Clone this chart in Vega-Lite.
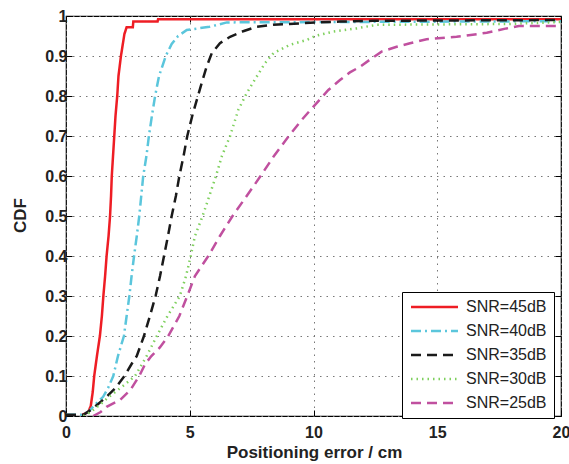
{
  "$schema": "https://vega.github.io/schema/vega-lite/v6.json",
  "width": 495,
  "height": 400,
  "autosize": {"type": "none"},
  "padding": {"left": 66, "top": 16, "right": 8, "bottom": 48},
  "background": "white",
  "config": {
    "view": {"stroke": "black", "strokeWidth": 1.2},
    "axis": {
      "labelFont": "Liberation Sans",
      "labelFontWeight": "bold",
      "labelFontSize": 16,
      "labelColor": "#222",
      "labelFlush": false,
      "titleFont": "Liberation Sans",
      "titleFontWeight": "bold",
      "titleFontSize": 17,
      "titleColor": "#222",
      "domain": false,
      "gridDash": [1.5, 5],
      "gridColor": "#777",
      "gridWidth": 1,
      "tickColor": "black",
      "tickSize": -6
    },
    "legend": {
      "labelFont": "Liberation Sans",
      "labelFontSize": 16,
      "labelColor": "#222"
    }
  },
  "data": {"values": [
    {"s": "SNR=45dB", "x": 0.6, "y": 0},
    {"s": "SNR=45dB", "x": 0.67, "y": 0.003},
    {"s": "SNR=45dB", "x": 0.9, "y": 0.01},
    {"s": "SNR=45dB", "x": 1.0, "y": 0.025},
    {"s": "SNR=45dB", "x": 1.08, "y": 0.06},
    {"s": "SNR=45dB", "x": 1.14, "y": 0.1},
    {"s": "SNR=45dB", "x": 1.25, "y": 0.15},
    {"s": "SNR=45dB", "x": 1.37, "y": 0.2},
    {"s": "SNR=45dB", "x": 1.45, "y": 0.25},
    {"s": "SNR=45dB", "x": 1.51, "y": 0.3},
    {"s": "SNR=45dB", "x": 1.58, "y": 0.35},
    {"s": "SNR=45dB", "x": 1.64, "y": 0.4},
    {"s": "SNR=45dB", "x": 1.72, "y": 0.45},
    {"s": "SNR=45dB", "x": 1.78, "y": 0.5},
    {"s": "SNR=45dB", "x": 1.82, "y": 0.55},
    {"s": "SNR=45dB", "x": 1.85, "y": 0.6},
    {"s": "SNR=45dB", "x": 1.9, "y": 0.65},
    {"s": "SNR=45dB", "x": 1.95, "y": 0.7},
    {"s": "SNR=45dB", "x": 2.0, "y": 0.75},
    {"s": "SNR=45dB", "x": 2.07, "y": 0.8},
    {"s": "SNR=45dB", "x": 2.12, "y": 0.85},
    {"s": "SNR=45dB", "x": 2.22, "y": 0.9},
    {"s": "SNR=45dB", "x": 2.36, "y": 0.955},
    {"s": "SNR=45dB", "x": 2.45, "y": 0.972},
    {"s": "SNR=45dB", "x": 2.7, "y": 0.972},
    {"s": "SNR=45dB", "x": 2.72, "y": 0.986},
    {"s": "SNR=45dB", "x": 3.7, "y": 0.986},
    {"s": "SNR=45dB", "x": 3.72, "y": 0.992},
    {"s": "SNR=45dB", "x": 20, "y": 0.992},

    {"s": "SNR=40dB", "x": 0, "y": 0.003},
    {"s": "SNR=40dB", "x": 0.6, "y": 0.003},
    {"s": "SNR=40dB", "x": 0.9, "y": 0.01},
    {"s": "SNR=40dB", "x": 1.2, "y": 0.03},
    {"s": "SNR=40dB", "x": 1.5, "y": 0.048},
    {"s": "SNR=40dB", "x": 1.7, "y": 0.07},
    {"s": "SNR=40dB", "x": 1.91, "y": 0.1},
    {"s": "SNR=40dB", "x": 2.1, "y": 0.15},
    {"s": "SNR=40dB", "x": 2.34, "y": 0.2},
    {"s": "SNR=40dB", "x": 2.45, "y": 0.25},
    {"s": "SNR=40dB", "x": 2.56, "y": 0.3},
    {"s": "SNR=40dB", "x": 2.65, "y": 0.35},
    {"s": "SNR=40dB", "x": 2.75, "y": 0.4},
    {"s": "SNR=40dB", "x": 2.86, "y": 0.45},
    {"s": "SNR=40dB", "x": 2.96, "y": 0.5},
    {"s": "SNR=40dB", "x": 3.04, "y": 0.55},
    {"s": "SNR=40dB", "x": 3.12, "y": 0.6},
    {"s": "SNR=40dB", "x": 3.25, "y": 0.65},
    {"s": "SNR=40dB", "x": 3.35, "y": 0.7},
    {"s": "SNR=40dB", "x": 3.47, "y": 0.75},
    {"s": "SNR=40dB", "x": 3.6, "y": 0.8},
    {"s": "SNR=40dB", "x": 3.76, "y": 0.85},
    {"s": "SNR=40dB", "x": 4.03, "y": 0.9},
    {"s": "SNR=40dB", "x": 4.27, "y": 0.93},
    {"s": "SNR=40dB", "x": 4.53, "y": 0.95},
    {"s": "SNR=40dB", "x": 4.88, "y": 0.965},
    {"s": "SNR=40dB", "x": 5.8, "y": 0.973},
    {"s": "SNR=40dB", "x": 6.5, "y": 0.984},
    {"s": "SNR=40dB", "x": 20, "y": 0.987},

    {"s": "SNR=35dB", "x": 0, "y": 0.003},
    {"s": "SNR=35dB", "x": 0.7, "y": 0.003},
    {"s": "SNR=35dB", "x": 1.0, "y": 0.015},
    {"s": "SNR=35dB", "x": 1.3, "y": 0.03},
    {"s": "SNR=35dB", "x": 1.64, "y": 0.048},
    {"s": "SNR=35dB", "x": 2.0, "y": 0.07},
    {"s": "SNR=35dB", "x": 2.36, "y": 0.1},
    {"s": "SNR=35dB", "x": 2.65, "y": 0.13},
    {"s": "SNR=35dB", "x": 2.86, "y": 0.15},
    {"s": "SNR=35dB", "x": 3.15, "y": 0.2},
    {"s": "SNR=35dB", "x": 3.39, "y": 0.25},
    {"s": "SNR=35dB", "x": 3.62, "y": 0.3},
    {"s": "SNR=35dB", "x": 3.8, "y": 0.35},
    {"s": "SNR=35dB", "x": 3.96, "y": 0.4},
    {"s": "SNR=35dB", "x": 4.12, "y": 0.45},
    {"s": "SNR=35dB", "x": 4.27, "y": 0.5},
    {"s": "SNR=35dB", "x": 4.44, "y": 0.55},
    {"s": "SNR=35dB", "x": 4.58, "y": 0.6},
    {"s": "SNR=35dB", "x": 4.75, "y": 0.65},
    {"s": "SNR=35dB", "x": 4.9, "y": 0.7},
    {"s": "SNR=35dB", "x": 5.1, "y": 0.75},
    {"s": "SNR=35dB", "x": 5.33, "y": 0.8},
    {"s": "SNR=35dB", "x": 5.52, "y": 0.84},
    {"s": "SNR=35dB", "x": 5.68, "y": 0.873},
    {"s": "SNR=35dB", "x": 5.89, "y": 0.907},
    {"s": "SNR=35dB", "x": 6.22, "y": 0.932},
    {"s": "SNR=35dB", "x": 6.63, "y": 0.948},
    {"s": "SNR=35dB", "x": 7.16, "y": 0.962},
    {"s": "SNR=35dB", "x": 7.7, "y": 0.973},
    {"s": "SNR=35dB", "x": 8.37, "y": 0.978},
    {"s": "SNR=35dB", "x": 9.86, "y": 0.983},
    {"s": "SNR=35dB", "x": 11.07, "y": 0.986},
    {"s": "SNR=35dB", "x": 12.4, "y": 0.988},
    {"s": "SNR=35dB", "x": 20, "y": 0.99},

    {"s": "SNR=30dB", "x": 0.7, "y": 0},
    {"s": "SNR=30dB", "x": 1.0, "y": 0.01},
    {"s": "SNR=30dB", "x": 1.4, "y": 0.03},
    {"s": "SNR=30dB", "x": 1.78, "y": 0.05},
    {"s": "SNR=30dB", "x": 2.3, "y": 0.075},
    {"s": "SNR=30dB", "x": 2.79, "y": 0.1},
    {"s": "SNR=30dB", "x": 3.26, "y": 0.15},
    {"s": "SNR=30dB", "x": 3.67, "y": 0.2},
    {"s": "SNR=30dB", "x": 4.1, "y": 0.25},
    {"s": "SNR=30dB", "x": 4.6, "y": 0.3},
    {"s": "SNR=30dB", "x": 4.85, "y": 0.35},
    {"s": "SNR=30dB", "x": 5.04, "y": 0.4},
    {"s": "SNR=30dB", "x": 5.21, "y": 0.45},
    {"s": "SNR=30dB", "x": 5.52, "y": 0.5},
    {"s": "SNR=30dB", "x": 5.79, "y": 0.55},
    {"s": "SNR=30dB", "x": 6.06, "y": 0.6},
    {"s": "SNR=30dB", "x": 6.3, "y": 0.65},
    {"s": "SNR=30dB", "x": 6.63, "y": 0.7},
    {"s": "SNR=30dB", "x": 6.96, "y": 0.765},
    {"s": "SNR=30dB", "x": 7.3, "y": 0.807},
    {"s": "SNR=30dB", "x": 7.7, "y": 0.848},
    {"s": "SNR=30dB", "x": 8.04, "y": 0.882},
    {"s": "SNR=30dB", "x": 8.38, "y": 0.907},
    {"s": "SNR=30dB", "x": 9.05, "y": 0.928},
    {"s": "SNR=30dB", "x": 9.72, "y": 0.94},
    {"s": "SNR=30dB", "x": 10.06, "y": 0.95},
    {"s": "SNR=30dB", "x": 10.8, "y": 0.961},
    {"s": "SNR=30dB", "x": 11.74, "y": 0.969},
    {"s": "SNR=30dB", "x": 12.55, "y": 0.978},
    {"s": "SNR=30dB", "x": 17.9, "y": 0.98},
    {"s": "SNR=30dB", "x": 20, "y": 0.985},

    {"s": "SNR=25dB", "x": 1.1, "y": 0},
    {"s": "SNR=25dB", "x": 1.4, "y": 0.01},
    {"s": "SNR=25dB", "x": 1.64, "y": 0.023},
    {"s": "SNR=25dB", "x": 2.18, "y": 0.04},
    {"s": "SNR=25dB", "x": 2.6, "y": 0.065},
    {"s": "SNR=25dB", "x": 2.96, "y": 0.1},
    {"s": "SNR=25dB", "x": 3.2, "y": 0.13},
    {"s": "SNR=25dB", "x": 3.45, "y": 0.15},
    {"s": "SNR=25dB", "x": 3.8, "y": 0.172},
    {"s": "SNR=25dB", "x": 4.13, "y": 0.2},
    {"s": "SNR=25dB", "x": 4.58, "y": 0.25},
    {"s": "SNR=25dB", "x": 4.9, "y": 0.3},
    {"s": "SNR=25dB", "x": 5.21, "y": 0.35},
    {"s": "SNR=25dB", "x": 5.75, "y": 0.4},
    {"s": "SNR=25dB", "x": 6.22, "y": 0.45},
    {"s": "SNR=25dB", "x": 6.73, "y": 0.5},
    {"s": "SNR=25dB", "x": 7.3, "y": 0.55},
    {"s": "SNR=25dB", "x": 7.84, "y": 0.598},
    {"s": "SNR=25dB", "x": 8.38, "y": 0.648},
    {"s": "SNR=25dB", "x": 8.98, "y": 0.698},
    {"s": "SNR=25dB", "x": 9.52, "y": 0.74},
    {"s": "SNR=25dB", "x": 9.99, "y": 0.773},
    {"s": "SNR=25dB", "x": 10.6, "y": 0.815},
    {"s": "SNR=25dB", "x": 11.07, "y": 0.84},
    {"s": "SNR=25dB", "x": 11.47, "y": 0.859},
    {"s": "SNR=25dB", "x": 11.88, "y": 0.873},
    {"s": "SNR=25dB", "x": 12.35, "y": 0.894},
    {"s": "SNR=25dB", "x": 12.75, "y": 0.911},
    {"s": "SNR=25dB", "x": 13.36, "y": 0.923},
    {"s": "SNR=25dB", "x": 13.9, "y": 0.932},
    {"s": "SNR=25dB", "x": 14.57, "y": 0.942},
    {"s": "SNR=25dB", "x": 15.78, "y": 0.948},
    {"s": "SNR=25dB", "x": 17.0, "y": 0.958},
    {"s": "SNR=25dB", "x": 17.8, "y": 0.969},
    {"s": "SNR=25dB", "x": 18.3, "y": 0.975},
    {"s": "SNR=25dB", "x": 20, "y": 0.975}
  ]},
  "resolve": {"axis": {"x": "independent", "y": "independent"}},
  "layer": [
    {
      "mark": {"type": "line", "clip": true},
      "encoding": {
        "x": {"field": "x", "type": "quantitative", "scale": {"domain": [0, 20], "nice": false},
              "axis": {"orient": "bottom", "values": [0, 5, 10, 15, 20], "grid": true, "title": "Positioning error / cm", "labelPadding": 14,
                       "titleX": 248, "titleY": 41, "titleBaseline": "alphabetic", "titleAnchor": "middle"}},
        "y": {"field": "y", "type": "quantitative", "scale": {"domain": [0, 1], "nice": false},
              "axis": {"orient": "left", "values": [0, 0.1, 0.2, 0.3, 0.4, 0.5, 0.6, 0.7, 0.8, 0.9, 1], "format": ".1~f", "grid": true, "title": "CDF", "labelPadding": 5,
                       "titleX": -41, "titleY": 199, "titleBaseline": "alphabetic", "titleAnchor": "middle"}},
        "color": {"field": "s", "type": "nominal",
                  "scale": {"domain": ["SNR=45dB", "SNR=40dB", "SNR=35dB", "SNR=30dB", "SNR=25dB"],
                            "range": ["#ee1d24", "#5bc6dc", "#1a1a1a", "#7fd05e", "#c0509f"]},
                  "legend": {"title": null, "orient": "none", "legendX": 336, "legendY": 276,
                             "padding": 7, "fillColor": "white", "strokeColor": "black",
                             "symbolType": "M-5.875,0H5.875", "symbolSize": 64, "symbolStrokeWidth": 2.5,
                             "symbolOffset": 17.5, "labelOffset": 23.5, "rowPadding": 8,
                             "labelExpr": "datum.label + '  '"}},
        "strokeDash": {"field": "s", "type": "nominal",
                  "scale": {"domain": ["SNR=45dB", "SNR=40dB", "SNR=35dB", "SNR=30dB", "SNR=25dB"],
                            "range": [[1, 0], [10, 4, 2, 4], [10, 6], [1.5, 4], [10, 6]]}},
        "strokeWidth": {"field": "s", "type": "nominal",
                  "scale": {"domain": ["SNR=45dB", "SNR=40dB", "SNR=35dB", "SNR=30dB", "SNR=25dB"],
                            "range": [2.5, 2.5, 3, 1.5, 3]}, "legend": null}
      }
    },
    {
      "mark": {"type": "point", "opacity": 0},
      "encoding": {
        "x": {"field": "x", "type": "quantitative",
              "axis": {"orient": "top", "values": [0, 5, 10, 15, 20], "grid": false, "labels": false, "title": null}},
        "y": {"field": "y", "type": "quantitative",
              "axis": {"orient": "right", "values": [0, 0.1, 0.2, 0.3, 0.4, 0.5, 0.6, 0.7, 0.8, 0.9, 1], "grid": false, "labels": false, "title": null}}
      }
    }
  ]
}
